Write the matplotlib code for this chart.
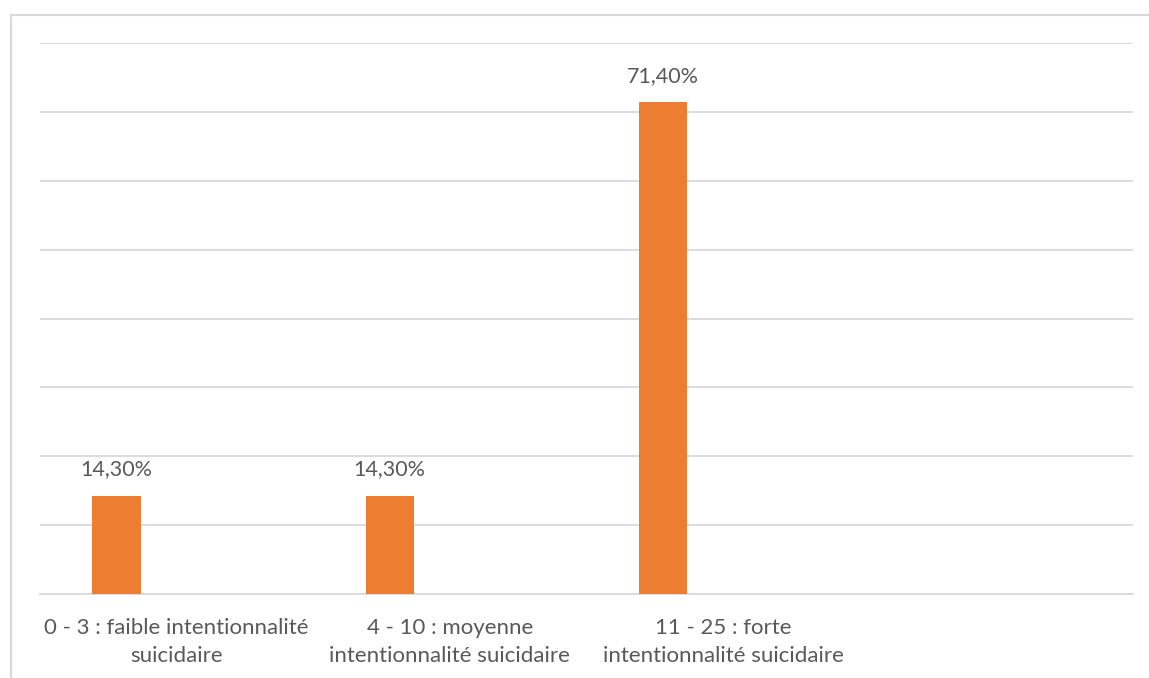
import matplotlib
matplotlib.use("Agg")
import matplotlib.pyplot as plt
from matplotlib.lines import Line2D

# Données
categories = ["0 - 3 : faible intentionnalité\nsuicidaire",
              "4 - 10 : moyenne\nintentionnalité suicidaire",
              "11 - 25 : forte\nintentionnalité suicidaire",
              ""]
valeurs = [0.143, 0.143, 0.714]
etiquettes = ["14,30%", "14,30%", "71,40%"]

plt.rcParams['font.family'] = ['Lato', 'DejaVu Sans']
gris_texte = '#595959'
gris_ligne = '#d9d9d9'

fig = plt.figure(figsize=(11.49, 6.78), dpi=100)
ax = fig.add_axes([40/1149, 84/678, 1093/1149, 551/678])

# Barres décalées vers la gauche de chaque catégorie (comme dans Excel)
decalage = -0.22
pos = [i + decalage for i in range(len(valeurs))]
barres = ax.bar(pos, valeurs, width=0.176, color='#ED7D31', zorder=3)

for x, v, t in zip(pos, valeurs, etiquettes):
    ax.annotate(t, (x, v), xytext=(0, 19), textcoords='offset points',
                ha='center', va='center', fontsize=15.5, color=gris_texte)

ax.set_xlim(-0.5, 3.5)
ax.set_ylim(0, 0.8)
ax.set_yticks([i / 10 for i in range(9)])
ax.set_yticklabels([])
ax.tick_params(axis='y', length=0)
ax.yaxis.grid(True, color=gris_ligne, linewidth=1.3, zorder=0)

ax.set_xticks(range(len(categories)))
ax.set_xticklabels(categories, fontsize=16, color=gris_texte, linespacing=1.5)
ax.tick_params(axis='x', length=0, pad=17)

for s in ['top', 'right', 'left']:
    ax.spines[s].set_visible(False)
ax.spines['bottom'].set_color(gris_ligne)
ax.spines['bottom'].set_linewidth(1.3)

# Cadre partiel autour du graphique
fig.add_artist(Line2D([10.5/1149, 10.5/1149], [0, 1 - 14.5/678],
                      transform=fig.transFigure, color=gris_ligne, linewidth=1.5))
fig.add_artist(Line2D([10.5/1149, 1], [1 - 14.5/678, 1 - 14.5/678],
                      transform=fig.transFigure, color=gris_ligne, linewidth=1.5))

fig.savefig("out.png", dpi=100, facecolor='white')
